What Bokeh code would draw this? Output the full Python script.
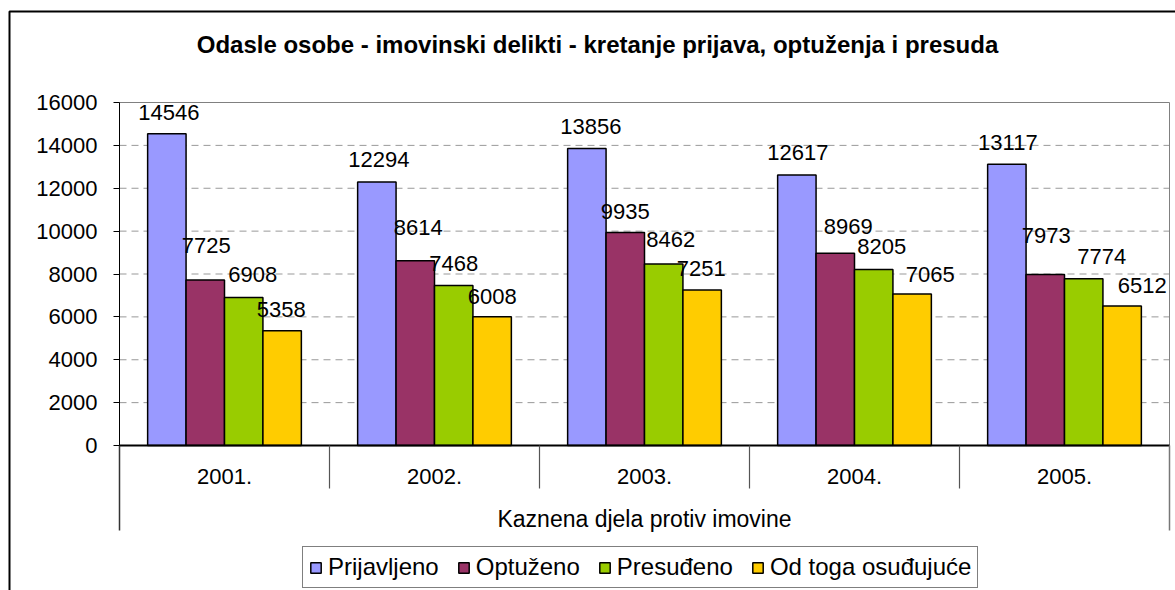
from bokeh.plotting import figure
from bokeh.models import (Range1d, FixedTicker, BoxAnnotation, ColumnDataSource)
from bokeh.core.properties import value
from bokeh.embed import file_html
from bokeh.resources import INLINE

# ---------------- data ----------------
years = ["2001.", "2002.", "2003.", "2004.", "2005."]
group_label = "Kaznena djela protiv imovine"
series_names = ["Prijavljeno", "Optuženo", "Presuđeno", "Od toga osuđujuće"]
prijavljeno = [14546, 12294, 13856, 12617, 13117]
optuzeno = [7725, 8614, 9935, 8969, 7973]
presudeno = [6908, 7468, 8462, 8205, 7774]
osudujuce = [5358, 6008, 7251, 7065, 6512]
title_text = "Odasle osobe - imovinski delikti - kretanje prijava, optuženja i presuda"
y_ticks = [0, 2000, 4000, 6000, 8000, 10000, 12000, 14000, 16000]

# ---------------- styles / layout ----------------
colors = ["#9999FF", "#993366", "#99CC00", "#FFCC00"]
FONT = value("Liberation Sans")
# label nudges in px (dx right, dy above bar top), per year x series
label_dx = [[2, 1, 9, -1], [2, 3, 0, 0], [4, 0, 7, -1], [1, 13, 8, 18], [1, 1, 18, 20]]
label_dy = [[21, 34, 23, 21], [22, 33, 22, 20], [22, 21, 25, 22], [23, 27, 23, 20], [22, 39, 22, 20]]

W, H = 1175, 590
PX_PER_X = 210.0            # pixels per category
PX_PER_Y = 343.0 / 16000.0  # pixels per value unit
LEFT_PAGE = 119.0           # x of plot area left
ZERO_PAGE = 445.0           # y of value 0


def xpx(px):
    return (px - LEFT_PAGE) / PX_PER_X


def ypx(py):
    return (ZERO_PAGE - py) / PX_PER_Y


p = figure(width=W, height=H, output_backend="svg", toolbar_location=None,
           x_range=Range1d(xpx(0), xpx(W)),
           y_range=Range1d(ypx(H), ypx(0)),
           x_axis_type=None)
p.min_border = 0
p.min_border_left = 0
p.min_border_right = 0
p.min_border_top = 0
p.min_border_bottom = 0
p.outline_line_color = None
p.background_fill_color = "white"
p.border_fill_color = "white"

# y axis (drawn at the plot-area left edge)
ya = p.yaxis[0]
ya.fixed_location = 0
ya.ticker = FixedTicker(ticks=y_ticks)
ya.bounds = (0, 16000)
ya.axis_line_color = "black"
ya.axis_line_width = 1
ya.major_tick_in = 0
ya.major_tick_out = 6
ya.major_tick_line_color = "black"
ya.minor_tick_line_color = None
ya.major_label_standoff = 16
ya.major_label_text_font = "Liberation Sans"
ya.major_label_text_font_size = "22px"
ya.major_label_text_color = "black"

# grid (limited to the plot area)
p.xgrid.visible = False
p.ygrid.visible = False
gt = y_ticks[1:-1]
p.segment(x0=[0] * len(gt), y0=gt, x1=[len(years)] * len(gt), y1=gt,
          line_color="#999999", line_dash="7 5", line_width=1, level="underlay")

# plot-area border
p.add_layout(BoxAnnotation(left=0, right=len(years), bottom=0, top=y_ticks[-1],
                           fill_alpha=0, line_color="#808080", line_alpha=1,
                           line_width=1, level="underlay"))

# bars
n = len(series_names)
all_vals = [prijavljeno, optuzeno, presudeno, osudujuce]
bw = 0.183
lx, ly, lt, ldx, ldy = [], [], [], [], []
for k, (name, vals, col) in enumerate(zip(series_names, all_vals, colors)):
    xs = [i + 0.5 + (k - (n - 1) / 2) * bw for i in range(len(years))]
    p.vbar(x=xs, top=vals, width=bw, fill_color=col, line_color="black",
           line_width=1.5, legend_label=name)
    for i, v in enumerate(vals):
        lx.append(xs[i]); ly.append(v); lt.append(str(v))
        ldx.append(label_dx[i][k]); ldy.append(-label_dy[i][k])

# category axis base line and separators
p.segment(x0=[0], y0=[0], x1=[len(years)], y1=[0], line_color="black", line_width=2)
inner = list(range(1, len(years)))
p.segment(x0=inner, y0=[0] * len(inner), x1=inner, y1=[ypx(488)] * len(inner),
          line_color="#555555", line_width=1.2)
outer = [0, len(years)]
p.segment(x0=outer, y0=[0, 0], x1=outer, y1=[ypx(530)] * 2,
          line_color=["#333333", "#777777"], line_width=1.5)

# data labels
src = ColumnDataSource(dict(x=lx, y=ly, t=lt, dx=ldx, dy=ldy))
p.text(x="x", y="y", text="t", x_offset="dx", y_offset="dy", source=src,
       text_font=FONT, text_font_size="22px", text_color="black",
       text_align="center", text_baseline="middle")

# category labels
p.text(x=[i + 0.5 for i in range(len(years))], y=[ypx(476)] * len(years), text=years,
       text_font=FONT, text_font_size="22px", text_color="black",
       text_align="center", text_baseline="middle")
p.text(x=[len(years) / 2], y=[ypx(518)], text=[group_label],
       text_font=FONT, text_font_size="23px", text_color="black",
       text_align="center", text_baseline="middle")

# title
p.text(x=[xpx(597)], y=[ypx(44)], text=[title_text],
       text_font=FONT, text_font_size="24px", text_font_style="bold",
       text_color="black", text_align="center", text_baseline="middle")

# outer chart border (left and top edges visible)
p.add_layout(BoxAnnotation(left=xpx(9), right=xpx(1400), top=ypx(11), bottom=ypx(900),
                           fill_alpha=0, line_color="black", line_alpha=1,
                           line_width=2))

# legend
lg = p.legend[0]
lg.orientation = "horizontal"
lg.location = (302, 2)
lg.margin = 0
lg.padding = 6
lg.spacing = 18
lg.glyph_width = 13
lg.glyph_height = 13
lg.label_standoff = 6
lg.label_height = 20
lg.label_text_font = "Liberation Sans"
lg.label_text_font_size = "24px"
lg.label_text_color = "black"
lg.border_line_color = "black"
lg.border_line_width = 1
lg.background_fill_color = "white"
lg.background_fill_alpha = 1

open("out.html", "w").write(file_html(p, INLINE))
